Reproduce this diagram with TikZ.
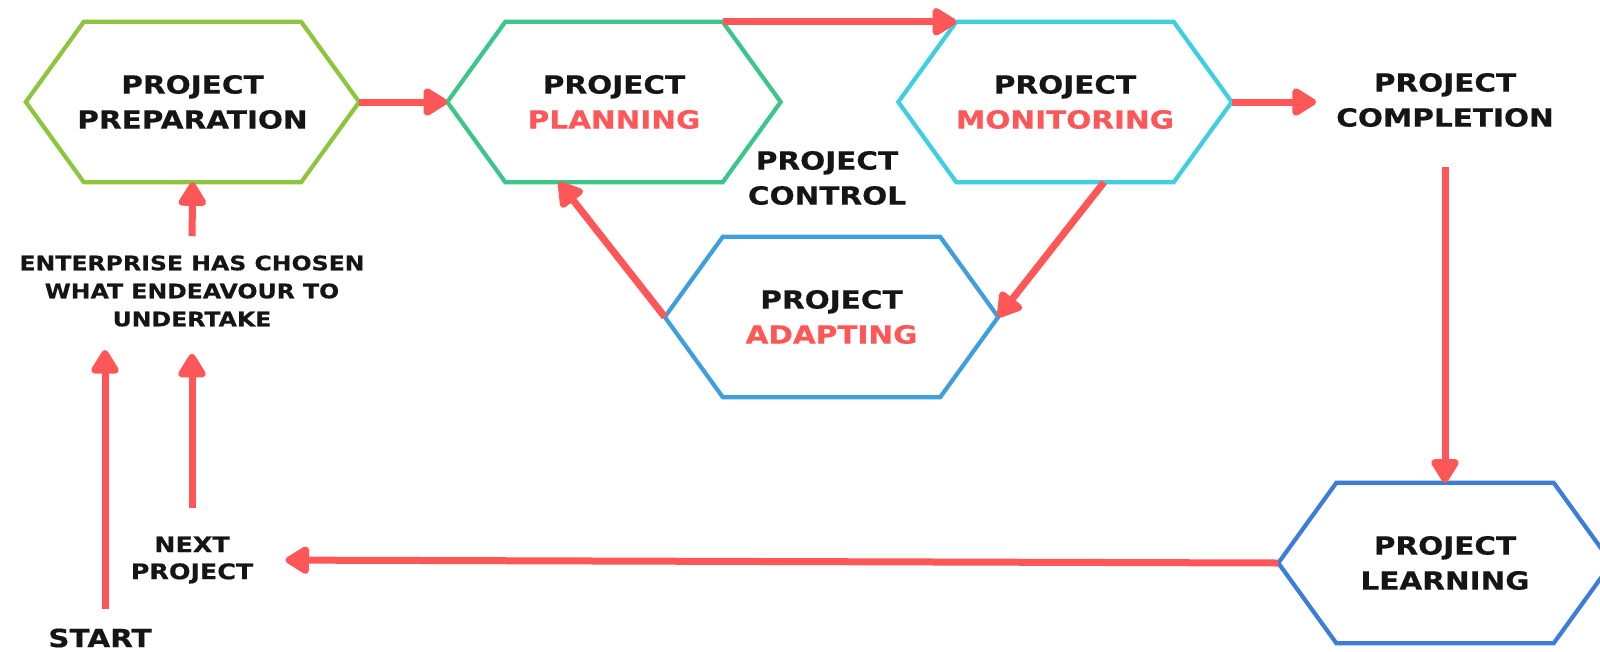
\documentclass[tikz,border=0pt]{standalone}
\usepackage{fontspec}
\setmainfont{DejaVu Sans}[FakeStretch=1.18, BoldFeatures={FakeBold=0.5}]
\usetikzlibrary{arrows.meta,calc}
\definecolor{ared}{HTML}{FF5757}
\definecolor{ink}{HTML}{151515}
\definecolor{cprep}{HTML}{8CC63F}
\definecolor{cplan}{HTML}{3CC68A}
\definecolor{cmon}{HTML}{3ECFE0}
\definecolor{cadapt}{HTML}{3D9FDB}
\definecolor{clearn}{HTML}{3B7DD8}
\newcommand\hexoutline[2]{\draw[hexline,draw=#2] (#1.west) -- ([xshift=58pt]#1.north west) -- ([xshift=-58pt]#1.north east) -- (#1.east) -- ([xshift=-58pt]#1.south east) -- ([xshift=58pt]#1.south west) -- cycle;}
\begin{document}
\begin{tikzpicture}[x=1pt,y=-1pt,
  hexnode/.style={minimum width=333pt, minimum height=160pt, inner sep=0pt, align=center, text=ink, font=\bfseries\fontsize{25}{35}\selectfont},
  hexline/.style={line width=4.2pt, line join=miter},
  lbl/.style={inner sep=0pt, align=center, text=ink, font=\bfseries\fontsize{25}{35}\selectfont},
  small/.style={inner sep=0pt, align=center, text=ink, font=\bfseries\fontsize{20}{28}\selectfont},
  arr/.style={draw=ared, line width=7pt, -{Triangle[length=27pt,width=31pt,round]}}]
\useasboundingbox (0,0) rectangle (1600,651);
\clip (0,0) rectangle (1600,651);
\fill[white] (0,0) rectangle (1600,651);

\node[hexnode] (prep) at (192.5,102) {PROJECT\\PREPARATION};
\node[hexnode] (plan) at (614,102) {PROJECT\\{\color{ared}PLANNING}};
\node[hexnode] (mon) at (1065,102) {PROJECT\\{\color{ared}MONITORING}};
\node[hexnode] (adapt) at (831.5,317) {PROJECT\\{\color{ared}ADAPTING}};
\node[hexnode] (learn) at (1445,563) {PROJECT\\LEARNING};
\hexoutline{prep}{cprep}
\hexoutline{plan}{cplan}
\hexoutline{mon}{cmon}
\hexoutline{adapt}{cadapt}
\hexoutline{learn}{clearn}

\node[lbl] (compl) at (1445,100) {PROJECT\\COMPLETION};
\node[lbl] (ctrl) at (827,178) {PROJECT\\CONTROL};
\node[small] (ent) at (192,291) {ENTERPRISE HAS CHOSEN\\WHAT ENDEAVOUR TO\\UNDERTAKE};
\node[inner sep=0pt, align=center, text=ink, font=\bfseries\fontsize{21.5}{27}\selectfont] (next) at (192,560) {NEXT\\PROJECT};
\node[lbl] (start) at (100,638) {START};
\coordinate (starttip) at (105,350);

\draw[arr] (prep.east) -- (plan.west);
\draw[arr] ([xshift=-58pt]plan.north east) -- ([xshift=58pt]mon.north west);
\draw[arr, shorten >=20pt] (mon.east) -- (mon.east -| compl.west);
\draw[arr, shorten <=40pt] (compl.south) -- (learn.north);
\draw[arr] ([xshift=39pt]mon.south) -- (adapt.east);
\draw[arr] (adapt.west) -- ([xshift=-55pt]plan.south);
\draw[arr, shorten <=19pt] (ent.north) -- (prep.south);
\draw[arr, shorten <=28pt, shorten >=27pt] (next.north) -- (ent.south);
\draw[arr, shorten <=19pt] ([xshift=5pt]start.north) -- (starttip);
\draw[arr, shorten >=32pt] (learn.west) -- (next.east);
\end{tikzpicture}
\end{document}
